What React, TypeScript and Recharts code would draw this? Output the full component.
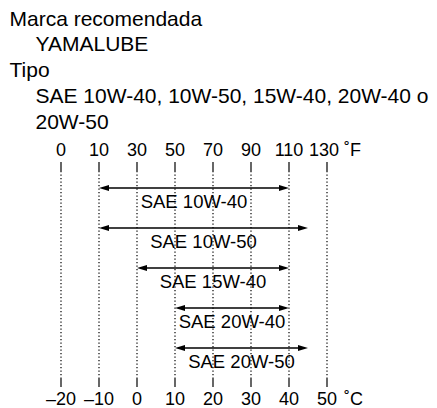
import { BarChart, Bar, XAxis, YAxis, CartesianGrid } from 'recharts'

// Grados del eje: la escala trabaja en °C, arriba se muestran los °F equivalentes
const celsiusTicks = [-20, -10, 0, 10, 20, 30, 40, 50]
const celsiusLabels = ['–20', '–10', '0', '10', '20', '30', '40', '50']
const fahrenheitLabels = ['0', '10', '30', '50', '70', '90', '110', '130']

// Aceites y su rango de temperatura (°C)
const oils = ['SAE 10W-40', 'SAE 10W-50', 'SAE 15W-40', 'SAE 20W-40', 'SAE 20W-50']
const minC = [-10, -10, 0, 10, 10]
const maxC = [40, 45, 40, 40, 45]

const FONT = '"Liberation Sans", Arial, Helvetica, sans-serif'

const chartData = oils.map((name, i) => ({ name, range: [minC[i], maxC[i]] }))

// flecha de doble punta con la etiqueta centrada debajo
function ArrowShape(props: any) {
  const { x, y, width, height } = props
  const name = props.payload?.name ?? props.name
  const cy = y + height / 2 - 7
  const x1 = x
  const x2 = x + width
  const head = 10
  const hw = 3
  return (
    <g>
      <line x1={x1 + head - 1} y1={cy} x2={x2 - head + 1} y2={cy} stroke="#000" strokeWidth={1.4} />
      <polygon points={`${x1},${cy} ${x1 + head},${cy - hw} ${x1 + head},${cy + hw}`} fill="#000" />
      <polygon points={`${x2},${cy} ${x2 - head},${cy - hw} ${x2 - head},${cy + hw}`} fill="#000" />
      <text x={(x1 + x2) / 2} y={cy + 20} textAnchor="middle" fontSize={18.5} fontFamily={FONT} fill="#000">
        {name}
      </text>
    </g>
  )
}

function TopTick(props: any) {
  const { x, y, payload } = props
  const i = celsiusTicks.indexOf(payload.value)
  const last = i === celsiusTicks.length - 1
  return (
    <g>
      <text x={last ? x - 3 : x} y={y} dy={-4} textAnchor="middle" fontSize={18} fontFamily={FONT} fill="#000">
        {fahrenheitLabels[i]}
      </text>
      {last && (
        <text x={x + 17} y={y} dy={-4} textAnchor="start" fontSize={18} fontFamily={FONT} fill="#000">
          ˚F
        </text>
      )}
    </g>
  )
}

function BottomTick(props: any) {
  const { x, y, payload } = props
  const i = celsiusTicks.indexOf(payload.value)
  const last = i === celsiusTicks.length - 1
  return (
    <g>
      <text x={x} y={y} dy={16} textAnchor="middle" fontSize={18} fontFamily={FONT} fill="#000">
        {celsiusLabels[i]}
      </text>
      {last && (
        <text x={x + 17} y={y} dy={16} textAnchor="start" fontSize={18} fontFamily={FONT} fill="#000">
          ˚C
        </text>
      )}
    </g>
  )
}

const headerStyle = { fontFamily: FONT, fontSize: 21, fill: '#000' }

export default function App() {
  return (
    <div style={{ position: 'absolute', left: 0, top: 0, width: 437, height: 408, background: '#fff' }}>
      <svg width={437} height={140} style={{ position: 'absolute', left: 0, top: 0 }}>
        <text x={9.5} y={26} style={headerStyle}>Marca recomendada</text>
        <text x={35.5} y={51} style={headerStyle}>YAMALUBE</text>
        <text x={9.5} y={77} style={headerStyle}>Tipo</text>
        <text x={35.5} y={103} style={headerStyle}>SAE 10W-40, 10W-50, 15W-40, 20W-40 o</text>
        <text x={35.5} y={129} style={headerStyle}>20W-50</text>
      </svg>
      <div style={{ position: 'absolute', left: 0, top: 0 }}>
        <BarChart
          width={437}
          height={408}
          data={chartData}
          layout="vertical"
          margin={{ top: 141, right: 110, bottom: 0, left: 61 }}
          barCategoryGap={0}
        >
          <CartesianGrid
            horizontal={false}
            vertical
            stroke="#000"
            strokeWidth={1.2}
            strokeDasharray="1.3 2.2"
          />
          <XAxis
            type="number"
            domain={[-20, 50]}
            ticks={celsiusTicks}
            orientation="bottom"
            height={30}
            axisLine={false}
            tickSize={9}
            tickLine={{ stroke: '#000', strokeWidth: 1.2 }}
            tick={<BottomTick />}
            interval={0}
            allowDataOverflow
          />
          <XAxis
            xAxisId="top"
            type="number"
            domain={[-20, 50]}
            ticks={celsiusTicks}
            orientation="top"
            height={30}
            axisLine={false}
            tickSize={9}
            tickLine={{ stroke: '#000', strokeWidth: 1.2 }}
            tick={<TopTick />}
            interval={0}
            allowDataOverflow
          />
          <YAxis type="category" dataKey="name" hide padding={{ top: 4, bottom: 3 }} />
          <Bar dataKey="range" shape={<ArrowShape />} isAnimationActive={false} />
        </BarChart>
      </div>
    </div>
  )
}
